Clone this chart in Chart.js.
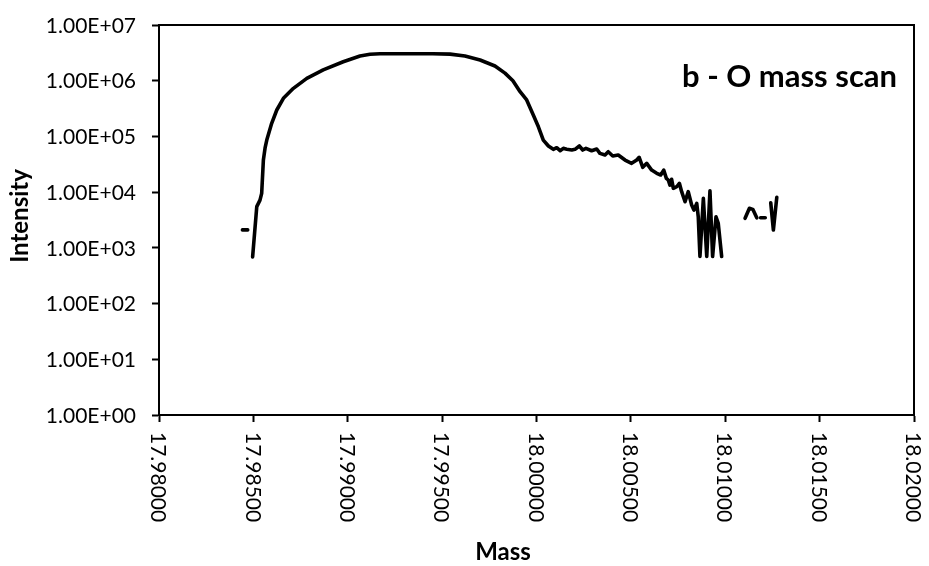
<!DOCTYPE html>
<html><head><meta charset="utf-8">
<script src="https://cdn.jsdelivr.net/npm/chart.js@4.4.1/dist/chart.umd.min.js"></script>
<style>html,body{margin:0;padding:0;background:#fff;}canvas{display:block;}</style>
</head><body>
<canvas id="c" width="929" height="566"></canvas>
<script>
// ---- data ----
const massValues = [
  17.98442, 17.98470, 17.98478,
  17.98496, 17.98518, 17.98535, 17.98544, 17.98553, 17.98562, 17.98571, 17.98597, 17.98624, 17.98659, 17.98712,
  17.98783, 17.98870, 17.98976, 17.99065, 17.99118, 17.99171, 17.99300, 17.99450, 17.99542, 17.99621,
  17.99701, 17.99780, 17.99833, 17.99875, 17.99913, 17.99948, 17.99983, 18.00010, 18.00036, 18.00063,
  18.00089, 18.00107, 18.00125, 18.00142, 18.00160, 18.00187, 18.00204, 18.00227, 18.00245, 18.00262,
  18.00292, 18.00319, 18.00336, 18.00363, 18.00380, 18.00404, 18.00433, 18.00469, 18.00504, 18.00531,
  18.00544, 18.00563, 18.00584, 18.00610, 18.00637, 18.00658, 18.00674, 18.00688, 18.00698, 18.00707,
  18.00716, 18.00725, 18.00743, 18.00757, 18.00769, 18.00787, 18.00804, 18.00822, 18.00834, 18.00849,
  18.00857, 18.00866, 18.00884, 18.00902, 18.00919, 18.00933, 18.00951, 18.00963, 18.00981, 18.01000,
  18.01105, 18.01128, 18.01146, 18.01167, 18.01178,
  18.01187, 18.01212, 18.01225,
  18.01241, 18.01255, 18.01273
];
const intensityValues = [
  2100, 2100, null,
  690, 5500, 7200, 9500, 37700, 62000, 86000, 172000, 298000, 483000, 730000,
  1100000, 1560000, 2190000, 2780000, 2980000, 3050000, 3050000, 3050000, 3000000, 2770000,
  2350000, 1840000, 1370000, 1000000, 635000, 451000, 242000, 149000, 86100, 67300,
  58700, 62700, 55400, 61100, 58700, 57000, 58700, 67300, 57000, 61100,
  55400, 59400, 49700, 46400, 53100, 44500, 46400, 37700, 32900, 37700,
  42200, 27900, 32900, 24900, 21800, 20300, 24900, 17700, 16500, 13400,
  17000, 11700, 12500, 14400, 10200, 6720, 10200, 5870, 4770, 6290,
  3620, 700, 7740, 700, 10600, 700, 3620, 2750, 700, null,
  3390, 5120, 4910, 3470, null,
  3470, 3470, null,
  6450, 2090, 8070
];
const xTickValues = [17.98, 17.985, 17.99, 17.995, 18.0, 18.005, 18.01, 18.015, 18.02];
const xTickLabels = ['17.98000','17.98500','17.99000','17.99500','18.00000','18.00500','18.01000','18.01500','18.02000'];
const yTickValues = [1, 10, 100, 1000, 10000, 100000, 1000000, 10000000];
const yTickLabels = ['1.00E+00','1.00E+01','1.00E+02','1.00E+03','1.00E+04','1.00E+05','1.00E+06','1.00E+07'];
const xTitle = 'Mass';
const yTitle = 'Intensity';
const chartLabel = 'b - O mass scan';

const points = massValues.map((m, i) => ({x: m, y: intensityValues[i]}));

const labelPlugin = {
  id: 'customLabels',
  afterDraw(chart) {
    const {ctx, chartArea: a, scales} = chart;
    const xs = scales.x, ys = scales.y;
    ctx.save();
    ctx.strokeStyle = '#000';
    ctx.lineWidth = 2;
    ctx.beginPath();
    ctx.moveTo(a.left - 1, a.top);
    ctx.lineTo(a.right, a.top);
    ctx.lineTo(a.right, a.bottom + 1);
    ctx.stroke();

    ctx.fillStyle = '#000';
    ctx.font = '21px Lato';
    ctx.textAlign = 'right';
    ctx.textBaseline = 'middle';
    yTickValues.forEach((v, i) => ctx.fillText(yTickLabels[i], a.left - 23, ys.getPixelForValue(v) + 1));

    xTickValues.forEach((v, i) => {
      const px = xs.getPixelForValue(v);
      ctx.save();
      ctx.translate(px, a.bottom + 17);
      ctx.rotate(Math.PI / 2);
      ctx.textAlign = 'left';
      ctx.textBaseline = 'middle';
      ctx.fillText(xTickLabels[i], 0, 1);
      ctx.restore();
    });

    ctx.font = 'bold 24px Lato';
    ctx.textAlign = 'center';
    ctx.textBaseline = 'middle';
    ctx.fillText(xTitle, 503, 552);
    ctx.save();
    ctx.translate(20, 216);
    ctx.rotate(-Math.PI / 2);
    ctx.fillText(yTitle, 0, 0);
    ctx.restore();

    ctx.font = 'bold 31px Lato';
    ctx.textAlign = 'left';
    ctx.textBaseline = 'alphabetic';
    ctx.fillText(chartLabel, 682, 87);
    ctx.restore();
  }
};

new Chart(document.getElementById('c'), {
  type: 'line',
  data: {
    datasets: [{
      data: points,
      borderColor: '#000',
      borderWidth: 3.6,
      borderJoinStyle: 'round',
      borderCapStyle: 'round',
      pointRadius: 0,
      tension: 0,
      spanGaps: false,
      fill: false
    }]
  },
  options: {
    responsive: false,
    devicePixelRatio: 1,
    animation: false,
    layout: {padding: {left: 152, right: 15, top: 25, bottom: 144}},
    plugins: {legend: {display: false}, tooltip: {enabled: false}, title: {display: false}},
    scales: {
      x: {
        type: 'linear',
        min: 17.98, max: 18.02,
        afterBuildTicks: s => { s.ticks = xTickValues.map(v => ({value: v})); },
        ticks: {display: false},
        grid: {display: true, drawOnChartArea: false, drawTicks: true, tickLength: 7, tickWidth: 2, tickColor: '#000'},
        border: {display: true, color: '#000', width: 2}
      },
      y: {
        type: 'logarithmic',
        min: 1, max: 10000000,
        afterBuildTicks: s => { s.ticks = yTickValues.map(v => ({value: v})); },
        ticks: {display: false},
        grid: {display: true, drawOnChartArea: false, drawTicks: true, tickLength: 7, tickWidth: 2, tickColor: '#000'},
        border: {display: true, color: '#000', width: 2}
      }
    }
  },
  plugins: [labelPlugin]
});
</script>
</body></html>
